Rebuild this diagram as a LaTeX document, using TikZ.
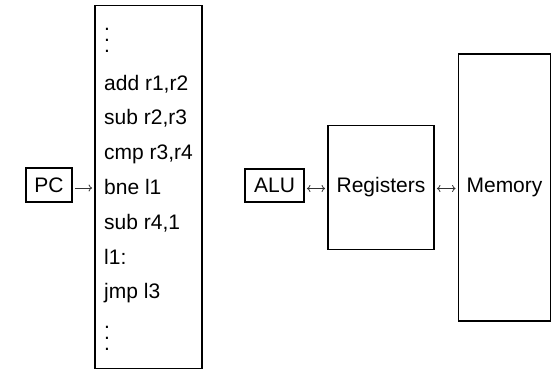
\documentclass[tikz,border=0pt]{standalone}
\usepackage{fontspec}
\setmainfont{Liberation Sans}
\usetikzlibrary{arrows.meta}
\tikzset{
  >={To[length=3.5pt,width=7pt]},
  unit/.style={draw,line width=1.8pt,inner sep=0pt,font=\fontsize{21}{25}\selectfont},
  line/.style={anchor=base west,inner sep=0pt,font=\fontsize{21}{25}\selectfont},
  more/.style={anchor=south west,inner sep=0pt,font=\fontsize{21}{25}\selectfont},
  link/.style={line width=0.8pt,black!80,shorten <=2pt,shorten >=2pt}
}
\newcommand\progdots{\vbox{\baselineskip=11pt\lineskiplimit=-30pt\hbox{.}\hbox{.}\hbox{.}}}
\begin{document}
\begin{tikzpicture}[x=1pt,y=-1pt]
    \useasboundingbox (0,0) rectangle (552,372);
    % program in memory
    \node[unit,minimum width=107pt,minimum height=363pt] (prog) at (148.5,187) {};
    \node[more] (top) at (104,53) {\progdots};
    \foreach \t [count=\i] in {add r1{,}r2,sub r2{,}r3,cmp r3{,}r4,bne l1,sub r4{,}1,l1:,jmp l3}
      \node[line] (ln\i) at (104,{90+34.8*(\i-1)}) {\t};
    \node[more] (bot) at (104,351) {\progdots};
    \node[unit,minimum width=46pt,minimum height=34pt] (pc) at (49,185) {PC};
    \draw[link,->] ([yshift=-3pt]pc.east) -- ([yshift=-3pt]prog.west |- pc.east);
    % datapath
    \node[unit,minimum width=59pt,minimum height=33pt] (alu) at (274.5,185.5) {ALU};
    \node[unit,minimum width=106pt,minimum height=124pt] (regs) at (381,187.5) {Registers};
    \node[unit,minimum width=92pt,minimum height=267pt] (mem) at (504.5,187.5) {Memory};
    \draw[link,<->] ([yshift=-3pt]alu.east) -- ([yshift=-3pt]regs.west |- alu.east);
    \draw[link,<->] ([yshift=-3pt]regs.east |- alu.east) -- ([yshift=-3pt]mem.west |- alu.east);
\end{tikzpicture}
\end{document}
